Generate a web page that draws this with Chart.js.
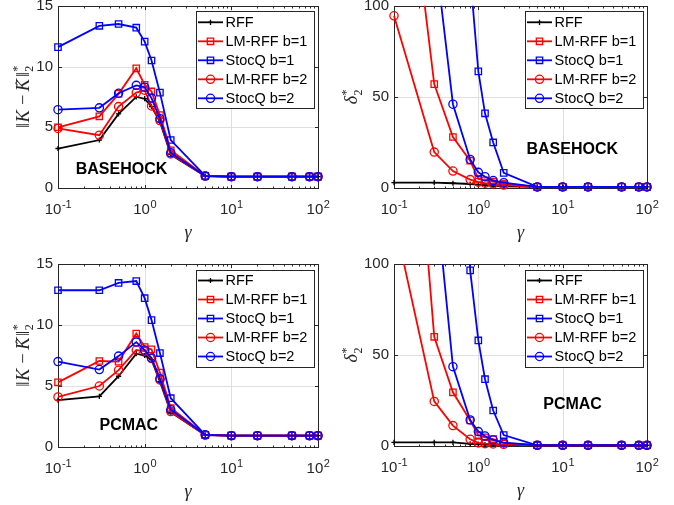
<!DOCTYPE html>
<html>
<head>
<meta charset="utf-8">
<script src="https://cdn.jsdelivr.net/npm/chart.js@4/dist/chart.umd.min.js"></script>
<style>
  html, body { margin: 0; padding: 0; background: #fff; }
  #fig { position: relative; width: 674px; height: 505px; overflow: hidden; background: #fff; }
  #fig canvas { position: absolute; left: 0; top: 0; }
</style>
</head>
<body>
<div id="fig">
  <canvas id="errBasehock" width="674" height="505"></canvas>
  <canvas id="deltaBasehock" width="674" height="505"></canvas>
  <canvas id="errPcmac" width="674" height="505"></canvas>
  <canvas id="deltaPcmac" width="674" height="505"></canvas>
</div>
<script>
// ---- data ----------------------------------------------------------------
const gamma = [0.1, 0.3, 0.5, 0.8, 1, 1.2, 1.5, 2, 5, 10, 20, 50, 80, 100];
const seriesNames = ['RFF', 'LM-RFF b=1', 'StocQ b=1', 'LM-RFF b=2', 'StocQ b=2'];

// BASEHOCK: ||K - K_hat||_2^*
const basehockErrRFF  = [3.25, 3.95, 6.1, 7.5, 7.35, 6.7, 5.45, 2.75, 0.97, 0.93, 0.93, 0.93, 0.93, 0.93];
const basehockErrLM1  = [5.0, 5.9, 7.75, 9.85, 8.5, 7.95, 6.0, 3.1, 1.0, 0.93, 0.93, 0.93, 0.93, 0.93];
const basehockErrSQ1  = [11.6, 13.35, 13.5, 13.2, 12.05, 10.5, 7.85, 3.95, 1.0, 0.93, 0.93, 0.93, 0.93, 0.93];
const basehockErrLM2  = [4.9, 4.35, 6.7, 7.85, 8.05, 6.75, 5.55, 2.8, 0.98, 0.93, 0.93, 0.93, 0.93, 0.93];
const basehockErrSQ2  = [6.45, 6.6, 7.8, 8.45, 8.3, 7.4, 5.7, 2.9, 0.98, 0.93, 0.93, 0.93, 0.93, 0.93];

// BASEHOCK: delta_2^*
const basehockDeltaRFF = [3.0, 2.9, 2.6, 2.2, 1.8, 1.5, 1.2, 0.9, 0.6, 0.6, 0.6, 0.6, 0.6, 0.6];
const basehockDeltaLM1 = [240, 57, 28, 15, 5.0, 4.2, 3.5, 2.2, 0.6, 0.6, 0.6, 0.6, 0.6, 0.6];
const basehockDeltaSQ1 = [600, 420, 260, 117, 64, 41, 25, 8.3, 0.6, 0.6, 0.6, 0.6, 0.6, 0.6];
const basehockDeltaLM2 = [94.5, 19.7, 9.3, 4.6, 3.2, 2.6, 2.2, 1.6, 0.6, 0.6, 0.6, 0.6, 0.6, 0.6];
const basehockDeltaSQ2 = [320, 133, 46, 15.7, 8.6, 6.2, 4.1, 2.9, 0.6, 0.6, 0.6, 0.6, 0.6, 0.6];

// PCMAC: ||K - K_hat||_2^*
const pcmacErrRFF = [3.85, 4.15, 5.8, 7.65, 7.5, 7.15, 5.35, 2.85, 0.98, 0.93, 0.93, 0.93, 0.93, 0.93];
const pcmacErrLM1 = [5.3, 7.05, 7.0, 9.3, 8.2, 8.0, 6.1, 3.2, 1.0, 0.93, 0.93, 0.93, 0.93, 0.93];
const pcmacErrSQ1 = [12.85, 12.85, 13.45, 13.6, 12.2, 10.4, 7.7, 4.0, 1.0, 0.93, 0.93, 0.93, 0.93, 0.93];
const pcmacErrLM2 = [4.1, 5.0, 6.3, 7.95, 7.85, 7.25, 5.5, 2.9, 0.98, 0.93, 0.93, 0.93, 0.93, 0.93];
const pcmacErrSQ2 = [7.0, 6.35, 7.45, 8.6, 7.95, 7.3, 5.6, 3.05, 1.0, 0.93, 0.93, 0.93, 0.93, 0.93];

// PCMAC: delta_2^*
const pcmacDeltaRFF = [2.0, 2.0, 2.0, 1.2, 0.9, 0.8, 0.7, 0.6, 0.4, 0.4, 0.4, 0.4, 0.4, 0.4];
const pcmacDeltaLM1 = [330, 60, 29.5, 14, 6.0, 4.8, 3.8, 1.6, 0.4, 0.4, 0.4, 0.4, 0.4, 0.4];
const pcmacDeltaSQ1 = [900, 600, 300, 96.5, 58, 36.7, 19.5, 6.0, 0.4, 0.4, 0.4, 0.4, 0.4, 0.4];
const pcmacDeltaLM2 = [125, 24.5, 11.2, 3.7, 1.7, 1.3, 1.1, 0.9, 0.4, 0.4, 0.4, 0.4, 0.4, 0.4];
const pcmacDeltaSQ2 = [400, 147, 43.6, 14.3, 7.9, 5.5, 3.3, 1.8, 0.4, 0.4, 0.4, 0.4, 0.4, 0.4];

// tick values and labels
const xTickValues = [0.1, 1, 10, 100];
const xTickExponents = ['-1', '0', '1', '2'];
const errTicks = [0, 5, 10, 15];
const deltaTicks = [0, 50, 100];

// ---- styling ---------------------------------------------------------------
const W = 674, H = 505;
const Y_AXIS_W = 45;
const AXIS = '#262626';
const GRID = '#dfdfdf';
const SANS = '"Liberation Sans", Arial, Helvetica, sans-serif';
const SERIF = '"Liberation Serif", "Times New Roman", serif';
const seriesStyle = [
  { color: '#000000', marker: 'cross',  radius: 2.6 },
  { color: '#ff0000', marker: 'rect',   radius: 4.5 },
  { color: '#0000ff', marker: 'rect',   radius: 4.5 },
  { color: '#ff0000', marker: 'circle', radius: 4.1 },
  { color: '#0000ff', marker: 'circle', radius: 4.1 }
];

function crisp(v) { return Math.round(v) + 0.5; }

function drawMarker(ctx, style, x, y, r) {
  ctx.beginPath();
  if (style === 'rect') {
    const s = Math.SQRT1_2 * r;
    ctx.rect(x - s, y - s, 2 * s, 2 * s);
  } else if (style === 'circle') {
    ctx.arc(x, y, r, 0, Math.PI * 2);
  } else {
    ctx.moveTo(x - r, y); ctx.lineTo(x + r, y);
    ctx.moveTo(x, y - r); ctx.lineTo(x, y + r);
  }
  ctx.stroke();
}

function minorLogValues(min, max) {
  const out = [];
  for (let e = Math.floor(Math.log10(min)); e < Math.ceil(Math.log10(max)); e++) {
    for (let k = 2; k <= 9; k++) {
      const v = k * Math.pow(10, e);
      if (v > min && v < max) out.push(v);
    }
  }
  return out;
}

// Rotated math label drawn piece by piece (base text plus stacked sub/superscripts)
function drawRotatedMath(ctx, pieces, bx, cy) {
  ctx.save();
  ctx.translate(bx, cy);
  ctx.rotate(-Math.PI / 2);
  ctx.textBaseline = 'alphabetic';
  ctx.textAlign = 'left';
  const widths = pieces.map(p => {
    ctx.font = p.font;
    const w = p.stack
      ? Math.max(...p.stack.map(s => ctx.measureText(s.text).width))
      : ctx.measureText(p.text).width;
    return w + (p.gap || 0);
  });
  const total = widths.reduce((a, b) => a + b, 0);
  let x = -total / 2;
  pieces.forEach((p, i) => {
    ctx.font = p.font;
    if (p.stack) {
      p.stack.forEach(s => ctx.fillText(s.text, x, s.dy));
    } else {
      ctx.fillText(p.text, x + (p.pre || 0), p.dy || 0);
      if (p.hat) {
        const w = ctx.measureText(p.text).width;
        ctx.font = '16px ' + SERIF;
        ctx.textAlign = 'center';
        ctx.fillText('\u02C6', x + (p.pre || 0) + w / 2 + 2, -2);
        ctx.textAlign = 'left';
      }
    }
    x += widths[i];
  });
  ctx.restore();
}

const matlabAxes = {
  id: 'matlabAxes',
  beforeDatasetsDraw(chart) {
    const { ctx, chartArea: a, scales: { x, y } } = chart;
    ctx.save();
    ctx.lineWidth = 1;
    // major grid
    ctx.strokeStyle = GRID;
    ctx.beginPath();
    xTickValues.forEach(v => {
      const px = crisp(x.getPixelForValue(v));
      if (px > a.left + 2 && px < a.right - 2) { ctx.moveTo(px, a.top); ctx.lineTo(px, a.bottom); }
    });
    y.ticks.forEach(t => {
      const py = crisp(y.getPixelForValue(t.value));
      if (py > a.top + 2 && py < a.bottom - 2) { ctx.moveTo(a.left, py); ctx.lineTo(a.right, py); }
    });
    ctx.stroke();
    // box
    ctx.strokeStyle = AXIS;
    const l = crisp(a.left), r = crisp(a.right), t = crisp(a.top), b = crisp(a.bottom);
    ctx.strokeRect(l, t, r - l, b - t);
    // inward tick marks
    ctx.beginPath();
    const tick = (px, len) => {
      ctx.moveTo(px, b); ctx.lineTo(px, b - len);
      ctx.moveTo(px, t); ctx.lineTo(px, t + len);
    };
    xTickValues.forEach(v => tick(crisp(x.getPixelForValue(v)), 3.5));
    minorLogValues(x.min, x.max).forEach(v => tick(crisp(x.getPixelForValue(v)), 2));
    y.ticks.forEach(tk => {
      const py = crisp(y.getPixelForValue(tk.value));
      ctx.moveTo(l, py); ctx.lineTo(l + 3.5, py);
      ctx.moveTo(r, py); ctx.lineTo(r - 3.5, py);
    });
    ctx.stroke();
    ctx.restore();
  },
  afterDatasetsDraw(chart, args, opts) {
    const { ctx, chartArea: a, scales: { x, y } } = chart;
    ctx.save();
    // x tick labels: 10 with superscript exponent
    ctx.fillStyle = AXIS;
    ctx.textBaseline = 'alphabetic';
    ctx.textAlign = 'left';
    xTickValues.forEach((v, i) => {
      const px = x.getPixelForValue(v);
      ctx.font = '15px ' + SANS;
      const w1 = ctx.measureText('10').width;
      ctx.font = '11px ' + SANS;
      const w2 = ctx.measureText(xTickExponents[i]).width;
      const x0 = px - (w1 + w2) / 2;
      ctx.font = '15px ' + SANS;
      ctx.fillText('10', x0, a.bottom + 26);
      ctx.font = '11px ' + SANS;
      ctx.fillText(xTickExponents[i], x0 + w1 + 0.5, a.bottom + 19.5);
    });
    // x title
    ctx.font = 'italic 18px ' + SERIF;
    ctx.textAlign = 'center';
    ctx.fillText('\u03B3', (a.left + a.right) / 2, a.bottom + 49.5);
    // y title
    const cy = (a.top + a.bottom) / 2;
    if (opts.yLabel === 'err') {
      drawRotatedMath(ctx, [
        { text: '\u2016', font: '18.5px ' + SERIF, gap: 0.5 },
        { text: 'K', font: 'italic 18.5px ' + SERIF, gap: 1.5 },
        { text: '\u2212', font: '18.5px ' + SERIF, pre: 3.5, gap: 7 },
        { text: 'K', font: 'italic 18.5px ' + SERIF, gap: 1.5, hat: true },
        { text: '\u2016', font: '18.5px ' + SERIF, gap: 0.5 },
        { stack: [{ text: '2', dy: 4.5 }, { text: '*', dy: -7.5 }], font: '12px ' + SERIF }
      ], a.left - 29.5, cy);
    } else {
      drawRotatedMath(ctx, [
        { text: '\u03B4', font: 'italic 18px ' + SERIF, gap: 0.5 },
        { stack: [{ text: '2', dy: 4.5 }, { text: '*', dy: -7.5 }], font: '12px ' + SERIF }
      ], a.left - 37, cy);
    }
    // dataset name inside the axes
    ctx.font = 'bold 16px ' + SANS;
    ctx.fillStyle = '#000';
    ctx.textAlign = 'center';
    ctx.fillText(opts.name, x.getPixelForValue(opts.nameAt[0]), y.getPixelForValue(opts.nameAt[1]) + 5.8);
    // legend box (north-east)
    const lw = 118, lh = 97;
    const bx = a.right - 4 - lw, by = a.top + 5.5;
    ctx.fillStyle = '#fff';
    ctx.fillRect(bx, by, lw, lh);
    ctx.strokeStyle = AXIS;
    ctx.lineWidth = 1;
    ctx.strokeRect(crisp(bx), crisp(by), lw, lh);
    chart.data.datasets.forEach((ds, i) => {
      const ry = by + 11 + i * 19;
      ctx.strokeStyle = ds.borderColor;
      ctx.lineWidth = ds.borderWidth;
      ctx.beginPath();
      ctx.moveTo(bx + 2, ry); ctx.lineTo(bx + 27, ry);
      ctx.stroke();
      ctx.lineWidth = ds.pointBorderWidth;
      drawMarker(ctx, ds.pointStyle, bx + 14.5, ry, ds.pointRadius);
      ctx.fillStyle = '#000';
      ctx.font = '14.5px ' + SANS;
      ctx.textAlign = 'left';
      ctx.textBaseline = 'middle';
      ctx.fillText(ds.label, bx + 29.5, ry + 0.5);
      ctx.textBaseline = 'alphabetic';
    });
    ctx.restore();
  }
};

function fitX(s) {
  s.height = 0;
  s.paddingTop = 0; s.paddingBottom = 0; s.paddingLeft = 0; s.paddingRight = 0;
}
function fitY(s) {
  s.width = Y_AXIS_W;
  s.paddingTop = 0; s.paddingBottom = 0; s.paddingLeft = 0; s.paddingRight = 0;
}

function makeDatasets(seriesValues) {
  return seriesValues.map((vals, i) => ({
    label: seriesNames[i],
    data: gamma.map((g, j) => ({ x: g, y: vals[j] })),
    borderColor: seriesStyle[i].color,
    pointBorderColor: seriesStyle[i].color,
    pointBackgroundColor: 'rgba(0,0,0,0)',
    pointStyle: seriesStyle[i].marker,
    pointRadius: seriesStyle[i].radius,
    pointBorderWidth: 1.3,
    borderWidth: 1.8,
    tension: 0,
    order: seriesValues.length - 1 - i,
    clip: { left: 10, right: 10, top: 0, bottom: 10 }
  }));
}

function makeChart(id, area, seriesValues, yMax, yTicks, yLabel, name, nameAt) {
  return new Chart(document.getElementById(id), {
    type: 'line',
    data: { datasets: makeDatasets(seriesValues) },
    options: {
      responsive: false,
      animation: false,
      devicePixelRatio: 1,
      events: [],
      layout: { padding: { left: area.l - Y_AXIS_W, top: area.t, right: W - area.r, bottom: H - area.b } },
      scales: {
        x: {
          type: 'logarithmic', min: 0.1, max: 100,
          ticks: { display: false },
          grid: { display: false, drawTicks: false },
          border: { display: false },
          afterFit: fitX
        },
        y: {
          type: 'linear', min: 0, max: yMax,
          afterBuildTicks: s => { s.ticks = yTicks.map(v => ({ value: v })); },
          ticks: { font: { family: SANS, size: 15 }, color: AXIS, padding: 5 },
          grid: { display: false, drawTicks: false },
          border: { display: false },
          afterFit: fitY
        }
      },
      plugins: {
        legend: { display: false },
        tooltip: { enabled: false },
        matlabAxes: { yLabel, name, nameAt }
      }
    },
    plugins: [matlabAxes]
  });
}

makeChart('errBasehock', { l: 58, t: 5, r: 318, b: 188 },
  [basehockErrRFF, basehockErrLM1, basehockErrSQ1, basehockErrLM2, basehockErrSQ2],
  15, errTicks, 'err', 'BASEHOCK', [0.54, 1.6]);
makeChart('deltaBasehock', { l: 394, t: 5, r: 647, b: 188 },
  [basehockDeltaRFF, basehockDeltaLM1, basehockDeltaSQ1, basehockDeltaLM2, basehockDeltaSQ2],
  100, deltaTicks, 'delta', 'BASEHOCK', [13.0, 21.7]);
makeChart('errPcmac', { l: 58, t: 264, r: 318, b: 447 },
  [pcmacErrRFF, pcmacErrLM1, pcmacErrSQ1, pcmacErrLM2, pcmacErrSQ2],
  15, errTicks, 'err', 'PCMAC', [0.656, 1.85]);
makeChart('deltaPcmac', { l: 394, t: 264, r: 647, b: 446 },
  [pcmacDeltaRFF, pcmacDeltaLM1, pcmacDeltaSQ1, pcmacDeltaLM2, pcmacDeltaSQ2],
  100, deltaTicks, 'delta', 'PCMAC', [13.1, 23.5]);
</script>
</body>
</html>
